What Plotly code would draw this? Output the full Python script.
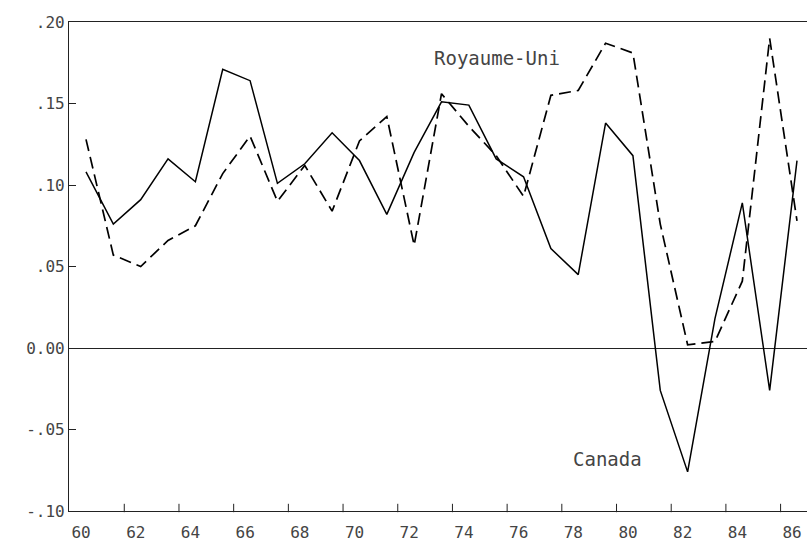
import plotly.graph_objects as go

years = list(range(60, 87))
canada = [0.108, 0.076, 0.091, 0.116, 0.102, 0.171, 0.164, 0.101, 0.113, 0.132,
          0.115, 0.082, 0.120, 0.151, 0.149, 0.116, 0.105, 0.061, 0.045, 0.138,
          0.118, -0.026, -0.076, 0.018, 0.089, -0.026, 0.115]
uk = [0.128, 0.057, 0.050, 0.066, 0.075, 0.107, 0.130, 0.090, 0.112, 0.084,
      0.127, 0.142, 0.063, 0.156, 0.136, 0.118, 0.093, 0.155, 0.158, 0.187,
      0.181, 0.076, 0.002, 0.004, 0.041, 0.190, 0.078]
x_labels = list(range(60, 87, 2))
x_ticktext = [str(v) for v in x_labels]
y_ticks = [0.20, 0.15, 0.10, 0.05, 0.0, -0.05, -0.10]
y_ticktext = [".20", ".15", ".10", ".05", "0.00", "-.05", "-.10"]
tick_marks = [61.4 + 2 * k for k in range(13)]

FONT = "DejaVu Sans Mono"
TXT = "#444444"

W, H = 807, 543
ML, MR, MT, MB = 69, 0, 22, 32
yr = [-0.10, 0.20]
xr = [60 - 17 / 27.35, 86 + 10 / 27.35]
plot_h = H - MT - MB
TICK_PX = 6
tick_y = yr[0] + (yr[1] - yr[0]) * (TICK_PX / 2) / plot_h

fig = go.Figure()
fig.add_trace(go.Scatter(x=years, y=canada, mode="lines", name="Canada",
                         line=dict(color="black", width=1.5)))
fig.add_trace(go.Scatter(x=years, y=uk, mode="lines", name="Royaume-Uni",
                         line=dict(color="black", width=1.7, dash="12px,6px")))
# inward x tick marks
fig.add_trace(go.Scatter(x=tick_marks, y=[tick_y] * len(tick_marks), mode="markers",
                         marker=dict(symbol="line-ns", size=TICK_PX,
                                     line=dict(color="#222", width=1)),
                         cliponaxis=False, showlegend=False, hoverinfo="skip"))

fig.update_layout(
    width=W, height=H,
    margin=dict(l=ML, r=MR, t=MT, b=MB),
    paper_bgcolor="white", plot_bgcolor="white",
    showlegend=False,
    font=dict(family=FONT, color=TXT),
    xaxis=dict(range=xr, tickmode="array", tickvals=[v - 0.18 for v in x_labels],
               ticktext=x_ticktext, ticks="",
               showgrid=False, zeroline=False, ticklabelstandoff=7,
               showline=True, linecolor="#222", linewidth=1.2, mirror=True,
               tickfont=dict(family=FONT, size=16, color=TXT)),
    yaxis=dict(range=yr, tickvals=y_ticks, ticktext=y_ticktext,
               ticks="inside", ticklen=7, tickcolor="#222", showgrid=False,
               zeroline=True, zerolinecolor="#222", zerolinewidth=1.2,
               showline=True, linecolor="#222", linewidth=1.2, mirror=False,
               tickfont=dict(family=FONT, size=16, color=TXT)),
)
# label positions given in pixels, converted to paper coordinates
pw = W - ML - MR
labels = [("Royaume-Uni", 497, 58), ("Canada", 607, 459)]
for txt, px, py in labels:
    fig.add_annotation(x=(px - ML) / pw, y=1 - (py - MT) / plot_h, xref="paper", yref="paper",
                       text=txt, showarrow=False, xanchor="center", yanchor="middle",
                       font=dict(family=FONT, size=19, color=TXT))

fig.write_html("out.html")
